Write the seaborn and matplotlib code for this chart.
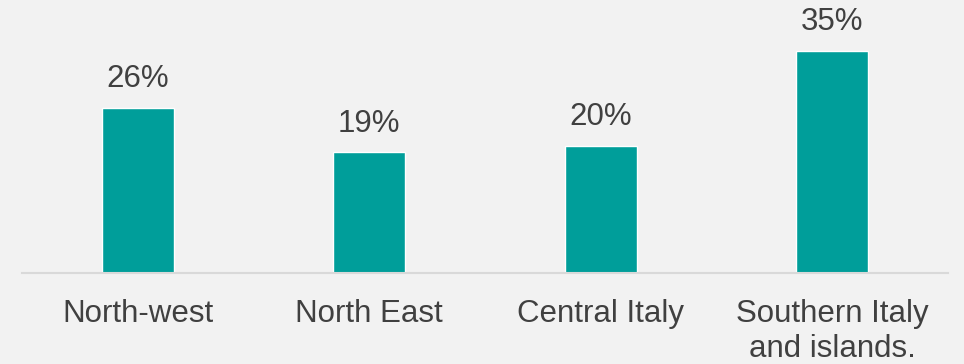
import matplotlib
matplotlib.use("Agg")
import matplotlib.pyplot as plt
import seaborn as sns
import pandas as pd

regions = ["North-west", "North East", "Central Italy", "Southern Italy\nand islands."]
shares = [26, 19, 20, 35]

bg = "#F2F2F2"
bar_color = "#009E9A"
text_color = "#404040"

sns.set_theme(style="white")
plt.rcParams["font.family"] = ["Liberation Sans", "DejaVu Sans"]

df = pd.DataFrame({"region": regions, "share": shares})

fig = plt.figure(figsize=(9.64, 3.64), dpi=100, facecolor=bg)
ax = fig.add_axes([22 / 964, 1 - 273 / 364, 926 / 964, 273 / 364])
ax.set_facecolor(bg)

sns.barplot(data=df, x="region", y="share", color=bar_color, width=0.311,
            saturation=1, ax=ax)

for container in ax.containers:
    ax.bar_label(container, labels=[f"{v}%" for v in shares], padding=10,
                 fontsize=22.5, color=text_color)

ax.set_ylim(0, 43.04)
ax.set_xlim(-0.5, 3.5)
ax.set_xlabel("")
ax.set_ylabel("")
ax.set_yticks([])
ax.tick_params(axis="x", length=0, pad=19, labelsize=22.5, labelcolor=text_color)
for side in ["top", "left", "right"]:
    ax.spines[side].set_visible(False)
ax.spines["bottom"].set_color("#D9D9D9")
ax.spines["bottom"].set_linewidth(1.5)

fig.savefig("out.png", dpi=100, facecolor=bg)
